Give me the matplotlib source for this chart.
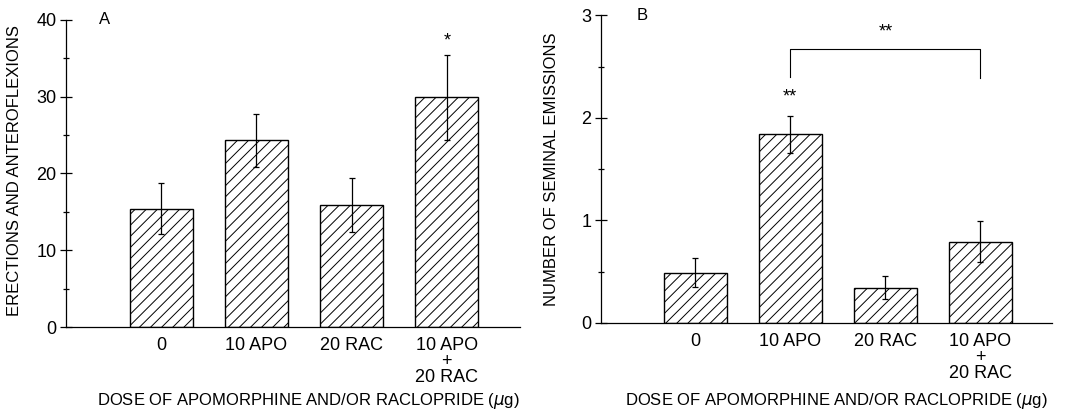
#!/usr/bin/env python3
"""Two-panel bar chart: erections/anteroflexions (A) and seminal emissions (B)."""

import matplotlib

matplotlib.use("Agg")
import matplotlib.pyplot as plt
import numpy as np

plt.rcParams["font.family"] = ["Liberation Sans", "DejaVu Sans"]
plt.rcParams["hatch.linewidth"] = 0.7

DOSE_LABELS = ["0", "10 APO", "20 RAC", "10 APO\n+\n20 RAC"]
ERECTIONS_MEAN = [15.4, 24.3, 15.9, 29.9]
ERECTIONS_SEM = [3.3, 3.4, 3.5, 5.5]
EMISSIONS_MEAN = [0.49, 1.84, 0.345, 0.79]
EMISSIONS_SEM = [0.14, 0.18, 0.11, 0.20]

XLABEL = r"DOSE OF APOMORPHINE AND/OR RACLOPRIDE ($\mu$g)"


def draw_panel(ax, means, sems, ylim, major, minor, ylabel, xlim,
               xlab_pos, ylab_pos):
    x = np.arange(len(means))
    ax.bar(x, means, width=0.66, color="white", edgecolor="black",
           hatch="///", linewidth=1.0, zorder=2)
    ax.errorbar(x, means, yerr=sems, fmt="none", ecolor="black",
                elinewidth=0.9, capsize=2.5, capthick=0.9, zorder=3)
    ax.set_xlim(*xlim)
    ax.set_ylim(*ylim)
    ax.set_yticks(major)
    ax.set_yticks(minor, minor=True)
    ax.set_xticks(x)
    ax.set_xticklabels(DOSE_LABELS, fontsize=13, linespacing=0.95)
    ax.tick_params(axis="x", length=0, pad=7)
    ax.tick_params(axis="y", which="major", direction="inout", length=8,
                   width=0.9, labelsize=13, pad=3)
    ax.tick_params(axis="y", which="minor", direction="inout", length=4,
                   width=0.9)
    for side in ("top", "right"):
        ax.spines[side].set_visible(False)
    for side in ("left", "bottom"):
        ax.spines[side].set_linewidth(0.9)
    ax.set_ylabel(ylabel, fontsize=12)
    ax.yaxis.set_label_coords(*ylab_pos)
    ax.set_xlabel(XLABEL, fontsize=12)
    ax.xaxis.set_label_coords(*xlab_pos)


fig = plt.figure(figsize=(10.81, 4.15), dpi=100)
ax_a = fig.add_axes([0.0611, 0.212, 0.42, 0.74])
ax_b = fig.add_axes([0.556, 0.222, 0.417, 0.741])

draw_panel(ax_a, ERECTIONS_MEAN, ERECTIONS_SEM, (0, 40),
           [0, 10, 20, 30, 40], [5, 15, 25, 35],
           "ERECTIONS AND ANTEROFLEXIONS", (-1.0, 3.77),
           (0.534, -0.207), (-0.098, 0.51))
draw_panel(ax_b, EMISSIONS_MEAN, EMISSIONS_SEM, (0, 3),
           [0, 1, 2, 3], [0.5, 1.5, 2.5],
           "NUMBER OF SEMINAL EMISSIONS", (-0.99, 3.75),
           (0.522, -0.221), (-0.093, 0.5))

ax_a.text(0.072, 1.0, "A", transform=ax_a.transAxes, fontsize=12,
          ha="left", va="center")
ax_b.text(0.078, 1.0, "B", transform=ax_b.transAxes, fontsize=12,
          ha="left", va="center")

# significance marks
ax_a.text(3, 37.2, "*", ha="center", va="center", fontsize=13)
ax_b.text(1, 2.2, "**", ha="center", va="center", fontsize=13)
ax_b.plot([1, 1, 3, 3], [2.4, 2.67, 2.67, 2.39], color="black", lw=0.8)
ax_b.text(2, 2.84, "**", ha="center", va="center", fontsize=13)

fig.savefig("out.png", dpi=100)
plt.close(fig)
